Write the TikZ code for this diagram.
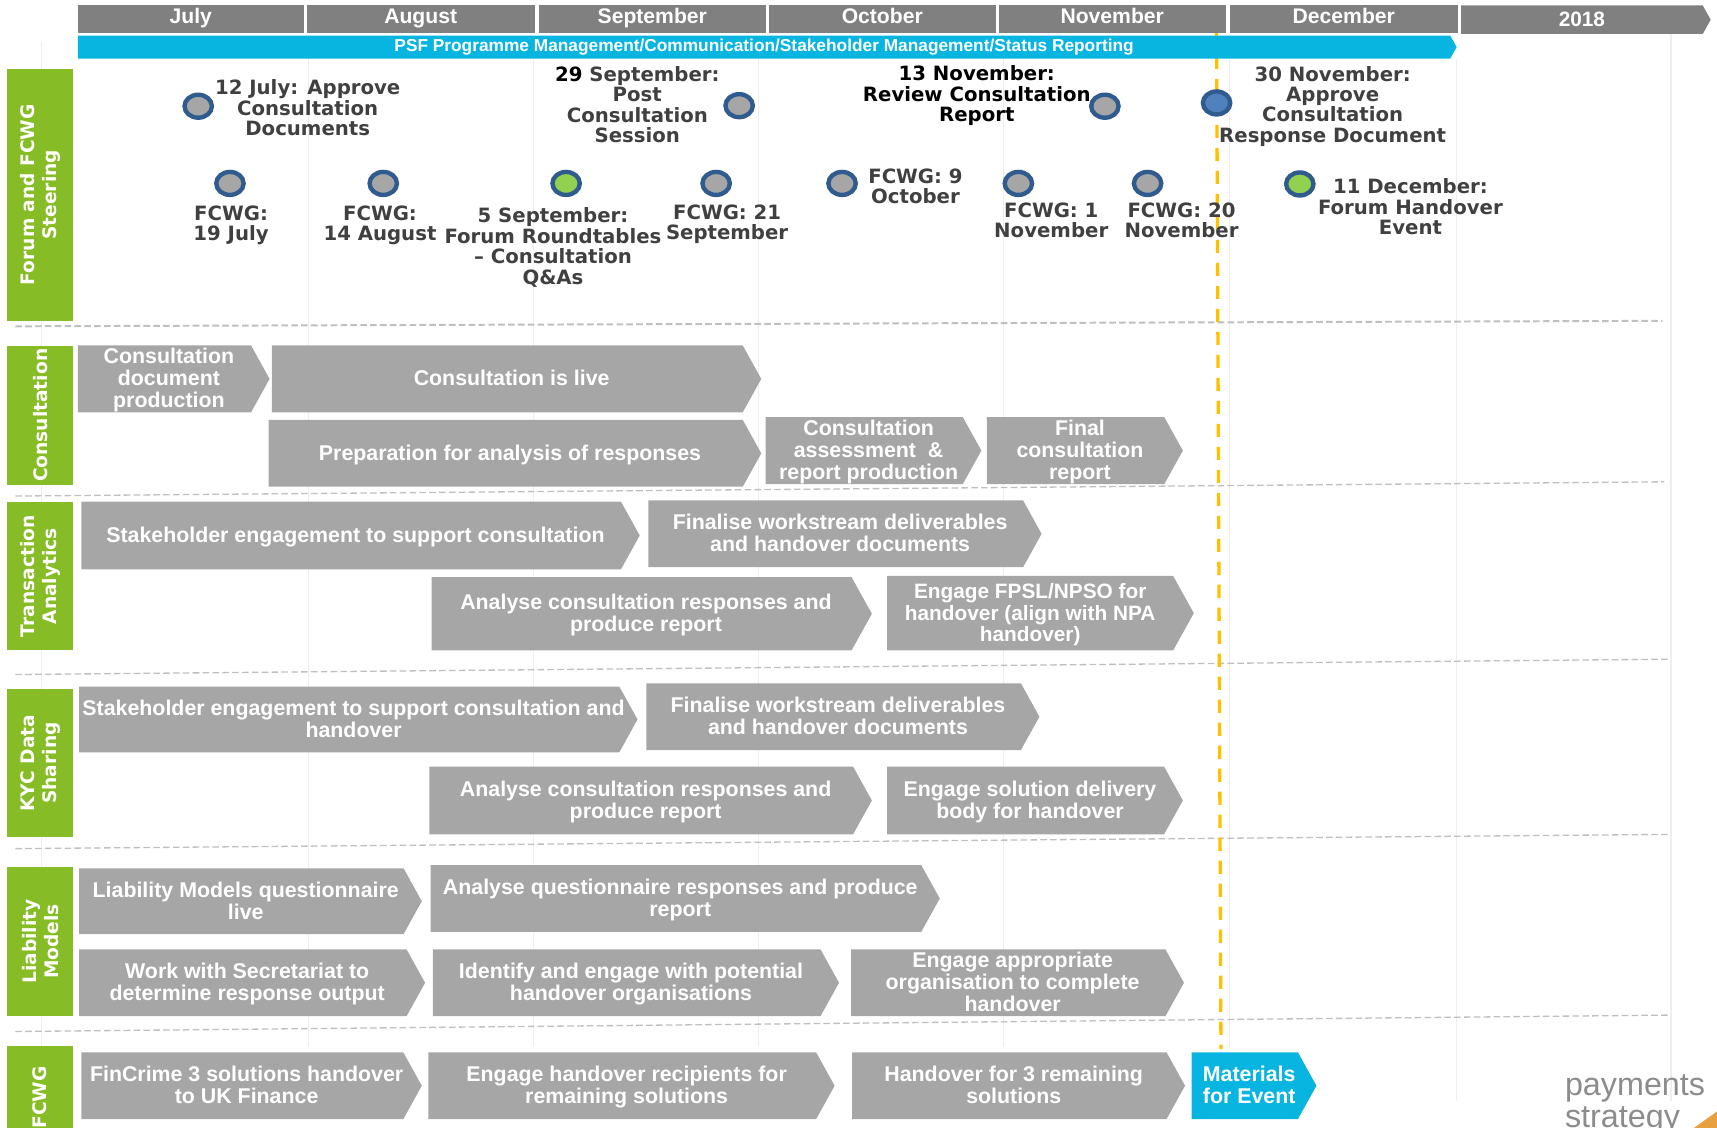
\documentclass[tikz,border=0pt]{standalone}
\usepackage{fontspec}
\setmainfont{Liberation Sans}
\newfontfamily\verdfont{DejaVu Sans}
\usetikzlibrary{shapes.symbols, shapes.geometric, positioning}
\definecolor{monthgrey}{HTML}{808080}
\definecolor{phasegrey}{HTML}{A6A6A6}
\definecolor{psfblue}{HTML}{08B5E0}
\definecolor{sidegreen}{HTML}{86BC25}
\definecolor{ringblue}{HTML}{2F5B8F}
\definecolor{reviewblue}{HTML}{4F81BD}
\definecolor{forumgreen}{HTML}{92D050}
\definecolor{todayamber}{HTML}{FFC000}
\definecolor{gridgrey}{HTML}{EEEEEE}
\definecolor{dividergrey}{HTML}{BFBFBF}
\definecolor{milestonetext}{HTML}{404040}
\definecolor{logogrey}{HTML}{8C8C8C}
\definecolor{logotan}{HTML}{E8A040}
\newcommand{\tasklines}[2][8pt]{\hspace*{#1}\raisebox{-2.2pt}[\height][\depth]{\begin{tabular}{@{}c@{}}#2\end{tabular}}}
\tikzset{
  month/.style={rectangle, fill=monthgrey, text=white, inner sep=0pt, anchor=west, minimum height=25pt, text height=13pt, text depth=5pt, font=\fontsize{19.3}{20}\selectfont\bfseries},
  phase/.style={signal, signal to=east, signal pointer angle=122, fill=phasegrey, text=white, inner sep=0pt, anchor=west, font=\fontsize{19.5}{20}\selectfont\bfseries},
  sidebox/.style={rectangle, fill=sidegreen, text=white, inner sep=0pt, anchor=north west, minimum height=60pt, rotate=90, align=center, font=\fontsize{17}{20}\verdfont\bfseries},
  milestone/.style={ellipse, draw=ringblue, line width=4pt, fill=phasegrey, minimum width=25pt, minimum height=21pt, inner sep=0pt},
  forum/.style={milestone, fill=forumgreen},
  note/.style={inner sep=0pt, align=center, text=milestonetext, font=\fontsize{18}{18.6}\verdfont\bfseries},
  gridline/.style={gridgrey, line width=1pt},
  divider/.style={dividergrey, dashed, line width=1.2pt, dash pattern=on 6pt off 3pt}
}
\begin{document}
\begin{tikzpicture}[x=1pt, y=-1pt]
  \useasboundingbox (0,0) rectangle (1568,1030);
  % month grid
  \draw[gridline] (38,38) -- (38,1030);
  \draw[gridline] (282,54) -- (282,955);
  \draw[gridline] (487,54) -- (487,955);
  \draw[gridline] (693,54) -- (693,955);
  \draw[gridline] (916,54) -- (916,955);
  \draw[gridline] (1123,54) -- (1123,955);
  \draw[gridline] (1330,54) -- (1330,1005);
  \draw[gridline] (1526,30) -- (1526,1005);
  % row dividers
  \draw[divider, line width=1.8pt] (14,298) -- (1518,293);
  \draw[divider] (14,453) -- (1520,440);
  \draw[divider] (14,616) -- (1524,602);
  \draw[divider] (14,775) -- (1524,762);
  \draw[divider] (14,942) -- (1524,927);
  % status line
  \draw[todayamber, line width=3pt, dash pattern=on 12pt off 9pt] (1111,30) -- (1115,958);

  \node[month, minimum width=206pt] (july) at (71,17.5) {July};
  \node[month, minimum width=208pt] (august) at (280,17.5) {August};
  \node[month, minimum width=207pt] (september) at (492,17.5) {September};
  \node[month, minimum width=207pt] (october) at (702,17.5) {October};
  \node[month, minimum width=207pt] (november) at (912,17.5) {November};
  \node[month, minimum width=208pt] (december) at (1123,17.5) {December};
  \node[phase, fill=monthgrey, minimum width=228pt, minimum height=26pt, font=\fontsize{19}{20}\selectfont\bfseries] (next) at (1334,18) {2018};
  \node[phase, fill=psfblue, minimum width=1259pt, minimum height=21pt, font=\fontsize{15.8}{16}\selectfont\bfseries] (psf) at (71,43) {PSF Programme Management/Communication/Stakeholder Management/Status Reporting};

  \node[sidebox, minimum width=230pt] (forumside) at (6.5,293) {Forum and FCWG\\Steering};
  \node[sidebox, minimum width=127pt] (consultside) at (6.5,443) {Consultation};
  \node[sidebox, minimum width=135pt] (transside) at (6.5,594) {Transaction\\Analytics};
  \node[sidebox, minimum width=136pt] (kycside) at (6.5,765) {KYC Data\\Sharing};
  \node[sidebox, minimum width=136pt] (liabside) at (6.5,928) {Liability\\Models};
  \node[sidebox, minimum width=95pt] (fcwgside) at (6.5,1050) {FCWG};

  % milestones
  \node[milestone] (m1) at (181,97) {};
  \node[milestone] (m2) at (675,96.5) {};
  \node[milestone] (m3) at (1009,97) {};
  \node[milestone, fill=reviewblue] (m4) at (1111,94) {};
  \node[milestone] (w1) at (210,167.5) {};
  \node[milestone] (w2) at (350,167.5) {};
  \node[forum] (w3) at (517,167.5) {};
  \node[milestone] (w4) at (654,167.5) {};
  \node[milestone] (w5) at (769,167.5) {};
  \node[milestone] (w6) at (930,167.5) {};
  \node[milestone] (w7) at (1048,167.5) {};
  \node[forum] (w8) at (1187,168) {};

  \node[note] (n1) at (281,98.5) {12 July: Approve\\Consultation\\Documents};
  \node[note] (n2) at (582,95.5) {\textcolor{black}{29} September:\\Post\\Consultation\\Session};
  \node[note, text=black] (n3) at (892,87.5) {13 November:\\Review Consultation\\Report};
  \node[note] (n4) at (1217,97) {30 November:\\Approve\\Consultation\\Response Document};
  \node[note] (t1) at (211,206) {FCWG:\\19 July};
  \node[note] (t2) at (347,206) {FCWG:\\14 August};
  \node[note] (t3) at (505,226) {5 September:\\Forum Roundtables\\– Consultation\\Q\&As};
  \node[note] (t4) at (664,204.5) {FCWG: 21\\September};
  \node[note] (t5) at (836,170) {FCWG: 9\\October};
  \node[note] (t6) at (960,201) {FCWG: 1\\November};
  \node[note] (t7) at (1079,201) {FCWG: 20\\November};
  \node[note] (t8) at (1288,189) {11 December:\\Forum Handover\\Event};

  % consultation
  \node[phase, minimum width=175pt, minimum height=61pt] (drafting) at (71,346) {\tasklines{Consultation\\document\\production}};
  \node[phase, minimum width=447pt, minimum height=61pt] (live) at (248,346) {\tasklines{Consultation is live}};
  \node[phase, minimum width=450pt, minimum height=61pt] (prep) at (245,414) {\tasklines{Preparation for analysis of responses}};
  \node[phase, minimum width=197pt, minimum height=61pt] (assess) at (699,411.5) {\tasklines{Consultation\\assessment \ \&\\report production}};
  \node[phase, minimum width=179pt, minimum height=61pt] (final) at (901,411.5) {\tasklines{Final\\consultation\\report}};
  % transaction analytics
  \node[phase, minimum width=510pt, minimum height=62pt] (tastake) at (74,489) {\tasklines{Stakeholder engagement to support consultation}};
  \node[phase, minimum width=359pt, minimum height=61pt] (tafinal) at (592,487.5) {\tasklines{Finalise workstream deliverables\\and handover documents}};
  \node[phase, minimum width=402pt, minimum height=67pt] (taanalyse) at (394,560.5) {\tasklines{Analyse consultation responses and\\produce report}};
  \node[phase, minimum width=280pt, minimum height=68pt, font=\fontsize{19}{20}\selectfont\bfseries] (taengage) at (810,560) {\tasklines[0pt]{Engage FPSL/NPSO for\\handover (align with NPA\\handover)}};
  % kyc
  \node[phase, minimum width=510pt, minimum height=60pt] (kycstake) at (72,657) {\makebox[480pt]{\tasklines{Stakeholder engagement to support consultation and\\handover}}};
  \node[phase, minimum width=359pt, minimum height=61pt] (kycfinal) at (590,654.5) {\tasklines{Finalise workstream deliverables\\and handover documents}};
  \node[phase, minimum width=404pt, minimum height=62pt] (kycanalyse) at (392,731) {\tasklines{Analyse consultation responses and\\produce report}};
  \node[phase, minimum width=270pt, minimum height=62pt] (kycengage) at (810,731) {\tasklines{Engage solution delivery\\body for handover}};
  % liability
  \node[phase, minimum width=313pt, minimum height=60pt] (liablive) at (72,823) {\tasklines{Liability Models questionnaire\\live}};
  \node[phase, minimum width=465pt, minimum height=61pt] (liabanalyse) at (393,820.5) {\tasklines{Analyse questionnaire responses and produce\\report}};
  \node[phase, minimum width=316pt, minimum height=61pt] (liabwork) at (72,897.5) {\tasklines{Work with Secretariat to\\determine response output}};
  \node[phase, minimum width=371pt, minimum height=61pt] (liabident) at (395,897.5) {\tasklines{Identify and engage with potential\\handover organisations}};
  \node[phase, minimum width=304pt, minimum height=61pt] (liabengage) at (777,897.5) {\tasklines{Engage appropriate\\organisation to complete\\handover}};
  % fcwg
  \node[phase, minimum width=311pt, minimum height=61pt] (fincrime) at (74,991.5) {\tasklines{FinCrime 3 solutions handover\\to UK Finance}};
  \node[phase, minimum width=371pt, minimum height=61pt] (recipients) at (391,991.5) {\tasklines{Engage handover recipients for\\remaining solutions}};
  \node[phase, minimum width=304pt, minimum height=61pt] (remaining) at (778,991.5) {\tasklines{Handover for 3 remaining\\solutions}};
  \node[phase, fill=psfblue, minimum width=114pt, minimum height=61pt] (materials) at (1088,991.5) {\tasklines{Materials\\for Event}};

  % logo
  \node[inner sep=0pt, anchor=north west, align=left, text=logogrey, font=\fontsize{29.5}{29}\selectfont] (logo) at (1429,981) {payments\\strategy};
  \fill[logotan] (1568,1015) -- (1568,1030) -- (1547,1030) -- cycle;
\end{tikzpicture}
\end{document}
